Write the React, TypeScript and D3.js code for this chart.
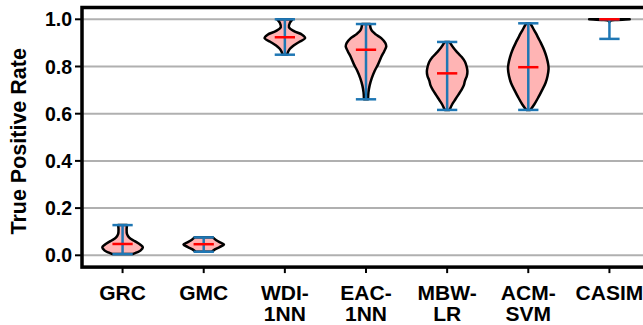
import React from "react";
import * as d3 from "d3";

const categories = ["GRC", "GMC", "WDI-1NN", "EAC-1NN", "MBW-LR", "ACM-SVM", "CASIM"];
const tickLabelLines = [["GRC"], ["GMC"], ["WDI-", "1NN"], ["EAC-", "1NN"], ["MBW-", "LR"], ["ACM-", "SVM"], ["CASIM"]];
const yTicks = [0, 0.2, 0.4, 0.6, 0.8, 1.0];
const yTickLabels = ["0.0", "0.2", "0.4", "0.6", "0.8", "1.0"];
const yTitle = "True Positive Rate";

const mins = [0.005, 0.015, 0.85, 0.661, 0.616, 0.616, 0.917];
const maxs = [0.128, 0.076, 1.0, 0.98, 0.904, 0.983, 1.0];
const medians = [0.048, 0.047, 0.924, 0.871, 0.771, 0.797, 1.0];

// density profiles: [value, relative half-width]
const grcProfile: [number, number][] = [
  [0.005, 0.5], [0.012, 0.7], [0.02, 0.88], [0.034, 1.0], [0.045, 0.88], [0.06, 0.6],
  [0.075, 0.33], [0.09, 0.22], [0.11, 0.2], [0.128, 0.22],
];
const gmcProfile: [number, number][] = [
  [0.015, 0.4], [0.025, 0.55], [0.035, 0.78], [0.046, 1.0], [0.055, 0.8], [0.065, 0.6], [0.076, 0.45],
];
const wdiProfile: [number, number][] = [
  [0.85, 0.12], [0.86, 0.15], [0.875, 0.25], [0.89, 0.45], [0.905, 0.72], [0.92, 1.0],
  [0.935, 0.85], [0.95, 0.45], [0.967, 0.2], [0.985, 0.25], [1.0, 0.38],
];
const eacProfile: [number, number][] = [
  [0.661, 0.1], [0.69, 0.12], [0.72, 0.18], [0.75, 0.28], [0.78, 0.42], [0.81, 0.6],
  [0.84, 0.75], [0.865, 0.9], [0.885, 1.0], [0.9, 0.95], [0.92, 0.75], [0.935, 0.5],
  [0.95, 0.3], [0.965, 0.22], [0.98, 0.2],
];
const mbwProfile: [number, number][] = [
  [0.616, 0.12], [0.64, 0.25], [0.66, 0.4], [0.68, 0.55], [0.7, 0.7], [0.72, 0.82],
  [0.74, 0.88], [0.76, 0.97], [0.78, 1.0], [0.8, 0.96], [0.82, 0.88], [0.84, 0.72],
  [0.86, 0.5], [0.88, 0.3], [0.904, 0.12],
];
const acmProfile: [number, number][] = [
  [0.616, 0.1], [0.64, 0.3], [0.67, 0.5], [0.7, 0.68], [0.73, 0.85], [0.76, 0.95],
  [0.79, 1.0], [0.81, 0.98], [0.84, 0.9], [0.87, 0.78], [0.9, 0.62], [0.92, 0.5],
  [0.94, 0.38], [0.96, 0.25], [0.983, 0.1],
];
const casimProfile: [number, number][] = [
  [0.988, 0.0], [0.994, 0.05], [0.997, 0.4], [1.0, 1.0],
];
const profiles = [grcProfile, gmcProfile, wdiProfile, eacProfile, mbwProfile, acmProfile, casimProfile];

const W = 643;
const H = 325;
const FONT = "'Liberation Sans', Arial, Helvetica, sans-serif";

export default function App() {
  const x = d3.scaleBand<string>().domain(categories).range([82, 650]).padding(0);
  const y = d3.scaleLinear().domain([-0.05, 1.05]).range([267.1, 7.5]);
  const bw = x.bandwidth();
  const hw = bw * 0.25;
  const capHalf = bw * 0.125;
  const cx = (c: string) => (x(c) as number) + bw / 2;
  const left = x.range()[0];
  const right = x.range()[1];
  const top = y.range()[1];
  const bottom = y.range()[0];

  return (
    <svg width={W} height={H} style={{ position: "absolute", left: 0, top: 0, background: "#fff" }}>
      <rect x={0} y={0} width={W} height={H} fill="#fff" />
      {/* grid */}
      {yTicks.map((t) => (
        <line key={"g" + t} x1={left} x2={right} y1={y(t)} y2={y(t)} stroke="#b0b0b0" strokeWidth={2} />
      ))}
      {/* violins */}
      {categories.map((c, i) => {
        const c0 = cx(c);
        const area = d3
          .area<[number, number]>()
          .y((d) => y(d[0]))
          .x0((d) => c0 - d[1] * hw)
          .x1((d) => c0 + d[1] * hw)
          .curve(d3.curveCatmullRom.alpha(0.5));
        return (
          <path key={"v" + c} d={area(profiles[i]) || ""} fill="#ffb4b4" stroke="#000" strokeWidth={2.5} strokeLinejoin="round" />
        );
      })}
      {/* bars and caps */}
      {categories.map((c, i) => {
        const c0 = cx(c);
        return (
          <g key={"b" + c} stroke="#1f77b4" strokeWidth={2.5}>
            <line x1={c0} x2={c0} y1={y(mins[i])} y2={y(maxs[i])} />
            <line x1={c0 - capHalf} x2={c0 + capHalf} y1={y(mins[i])} y2={y(mins[i])} />
            <line x1={c0 - capHalf} x2={c0 + capHalf} y1={y(maxs[i])} y2={y(maxs[i])} />
          </g>
        );
      })}
      {categories.map((c, i) => {
        const c0 = cx(c);
        return (
          <line key={"m" + c} x1={c0 - capHalf} x2={c0 + capHalf} y1={y(medians[i])} y2={y(medians[i])} stroke="#ff0000" strokeWidth={2.5} />
        );
      })}
      {/* frame */}
      <rect x={left} y={top} width={right - left} height={bottom - top} fill="none" stroke="#000" strokeWidth={3.5} />
      {/* y ticks */}
      {yTicks.map((t, i) => (
        <g key={"yt" + t}>
          <line x1={left - 7} x2={left} y1={y(t)} y2={y(t)} stroke="#000" strokeWidth={2} />
          <text x={left - 10} y={y(t)} dy="0.36em" textAnchor="end" fontFamily={FONT} fontWeight="bold" fontSize={19.5} fill="#000">
            {yTickLabels[i]}
          </text>
        </g>
      ))}
      {/* x ticks */}
      {categories.map((c, i) => (
        <g key={"xt" + c}>
          <line x1={cx(c)} x2={cx(c)} y1={bottom} y2={bottom + 6} stroke="#000" strokeWidth={2} />
          <text x={cx(c)} y={300} textAnchor="middle" fontFamily={FONT} fontWeight="bold" fontSize={21} fill="#000">
            {tickLabelLines[i].map((ln, j) => (
              <tspan key={j} x={cx(c)} y={300 + j * 21}>
                {ln}
              </tspan>
            ))}
          </text>
        </g>
      ))}
      {/* y title */}
      <text
        transform={`translate(26, ${(y(0) + y(1)) / 2 + 4}) rotate(-90)`}
        textAnchor="middle"
        fontFamily={FONT}
        fontWeight="bold"
        fontSize={21.5}
        fill="#000"
      >
        {yTitle}
      </text>
    </svg>
  );
}
